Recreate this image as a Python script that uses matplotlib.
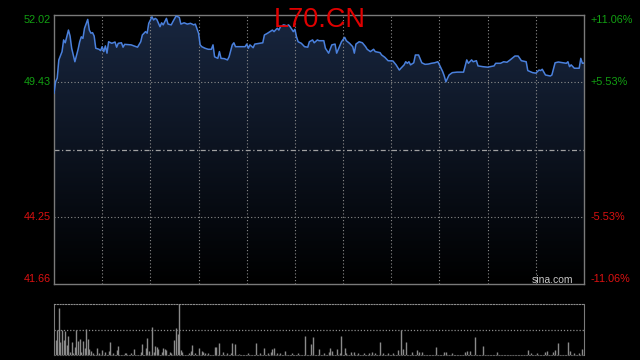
import numpy as np
import matplotlib
matplotlib.use("Agg")
import matplotlib.pyplot as plt
from matplotlib.colors import LinearSegmentedColormap

plt.rcParams['font.family'] = ['Liberation Sans', 'DejaVu Sans']

# intraday data (minutes from open, price)
minutes = [
    0, 1, 2, 3, 5, 6, 7, 9, 10, 11,
    13, 15, 16, 17, 18, 19, 21, 22, 23, 24,
    25, 26, 28, 29, 30, 31, 32, 33, 34, 36,
    38, 39, 40, 42, 43, 44, 48, 51, 52, 54,
    55, 57, 58, 59, 61, 62, 63, 64, 66, 67,
    68, 70, 71, 73, 74, 76, 78, 79, 81, 83,
    85, 87, 88, 90, 91, 92, 94, 96, 98, 99,
    100, 102, 103, 104, 106, 108, 109, 111, 112, 113,
    116, 119, 120, 121, 122, 124, 125, 128, 130, 131,
    133, 136, 137, 139, 140, 141, 143, 145, 146, 147,
    149, 150, 151, 152, 154, 156, 158, 159, 161, 162,
    164, 165, 168, 169, 171, 173, 175, 176, 179, 181,
    182, 184, 186, 187, 188, 190, 192, 194, 195, 197,
    199, 200, 203, 204, 206, 208, 211, 213, 215, 216,
    218, 219, 220, 221, 222, 224, 225, 227, 229, 231,
    233, 235, 237, 239, 240, 242, 243, 244, 246, 248,
    251, 255, 257, 258, 260, 261, 263, 264, 267, 270,
    274, 275, 278, 280, 282, 284, 287, 289, 291, 294,
    295, 298, 300, 302, 303, 304, 306, 309, 310, 312,
    314, 317, 319, 320, 321, 322, 324, 326, 327, 328,
    329, 330,
]
prices = [
    49.01, 49.45, 49.59, 50.29, 50.61, 51.06, 50.95, 51.44, 51.21, 50.74,
    50.22, 50.70, 50.99, 51.18, 51.12, 51.51, 51.85, 51.44, 51.32, 51.34,
    51.21, 50.74, 50.70, 50.65, 50.80, 50.61, 50.83, 50.55, 50.99, 50.93,
    50.98, 50.78, 50.93, 50.95, 50.78, 50.89, 50.87, 50.80, 50.78, 50.99,
    51.25, 51.38, 51.32, 51.70, 51.95, 51.83, 51.89, 51.85, 51.57, 51.72,
    51.64, 51.89, 51.67, 51.64, 51.76, 51.98, 51.93, 51.67, 51.72, 51.67,
    51.70, 51.64, 51.67, 51.32, 50.87, 50.80, 50.74, 50.70, 50.70, 50.87,
    50.41, 50.35, 50.61, 50.35, 50.34, 50.29, 50.41, 50.87, 50.95, 50.80,
    50.80, 50.80, 50.90, 50.74, 50.87, 50.76, 50.90, 50.93, 50.95, 51.25,
    51.32, 51.44, 51.38, 51.51, 51.44, 51.57, 51.64, 51.60, 51.64, 51.57,
    51.38, 51.47, 51.18, 50.99, 50.93, 50.80, 50.78, 50.99, 51.06, 50.95,
    51.06, 51.03, 51.03, 50.74, 50.55, 50.87, 50.90, 50.55, 50.99, 51.16,
    51.03, 50.93, 50.80, 50.55, 50.90, 50.99, 50.95, 50.80, 50.70, 50.61,
    50.70, 50.61, 50.57, 50.48, 50.39, 50.26, 50.25, 50.10, 49.90, 49.97,
    50.10, 50.22, 50.16, 50.22, 50.10, 50.18, 50.48, 50.48, 50.18, 50.12,
    50.13, 50.16, 50.18, 50.22, 50.10, 49.84, 49.67, 49.45, 49.71, 49.80,
    49.82, 49.82, 50.29, 50.16, 50.29, 50.22, 50.26, 50.06, 50.03, 50.01,
    50.06, 50.16, 50.16, 50.22, 50.20, 50.29, 50.44, 50.44, 50.26, 50.22,
    49.88, 49.80, 49.78, 49.90, 49.88, 49.93, 49.71, 49.67, 49.71, 50.18,
    50.21, 50.18, 50.16, 50.22, 50.03, 50.10, 49.97, 49.97, 49.97, 50.35,
    50.16, 50.17,
]

# volume bars
vol_minutes = [
    1, 2, 3, 4, 5, 6, 7, 8, 9, 10,
    11, 12, 13, 14, 15, 16, 17, 18, 19, 20,
    21, 22, 23, 24, 27, 28, 30, 32, 34, 35,
    37, 39, 40, 44, 45, 48, 50, 54, 55, 57,
    58, 59, 61, 62, 63, 64, 65, 67, 68, 69,
    70, 72, 73, 75, 76, 77, 78, 79, 80, 84,
    85, 86, 88, 90, 92, 93, 94, 96, 100, 101,
    103, 105, 108, 110, 111, 113, 115, 121, 126, 128,
    131, 133, 135, 136, 137, 139, 141, 144, 148, 152,
    156, 160, 161, 165, 168, 171, 172, 173, 176, 178,
    179, 181, 182, 185, 187, 189, 193, 196, 198, 200,
    203, 205, 208, 211, 214, 216, 217, 219, 223, 226,
    227, 229, 238, 243, 244, 248, 256, 257, 259, 262,
    267, 276, 295, 297, 301, 306, 307, 311, 312, 314,
    320, 321, 324, 327, 329,
]
volumes = [
    90, 150, 276, 74, 146, 90, 140, 60, 114, 20,
    74, 10, 50, 150, 80, 96, 20, 80, 40, 154,
    96, 34, 24, 10, 40, 14, 30, 20, 24, 78,
    10, 30, 54, 10, 14, 10, 34, 20, 66, 40,
    100, 26, 168, 20, 54, 46, 34, 20, 40, 34,
    30, 20, 10, 86, 160, 126, 300, 30, 20, 10,
    24, 60, 10, 40, 26, 20, 14, 10, 46, 46,
    70, 20, 10, 14, 70, 66, 6, 10, 70, 10,
    40, 14, 20, 36, 40, 10, 10, 24, 10, 14,
    114, 66, 106, 34, 10, 20, 40, 24, 34, 14,
    114, 40, 14, 18, 16, 14, 10, 14, 18, 10,
    78, 10, 14, 14, 30, 150, 34, 78, 18, 30,
    20, 16, 50, 18, 20, 14, 18, 24, 24, 108,
    54, 18, 30, 14, 10, 18, 24, 18, 30, 72,
    78, 24, 14, 14, 36,
]

prev_close = 46.84
price_levels = [52.02, 49.43, 44.25, 41.66]
price_labels = ["52.02", "49.43", "44.25", "41.66"]
pct_labels = ["+11.06%", "+5.53%", "-5.53%", "-11.06%"]
label_colors = ["#12a012", "#12a012", "#dd1111", "#dd1111"]
label_dy = [-5, 0, 0, 5]  # top/bottom labels pulled inward

low, high = 41.66, 52.02
session = 330

fig = plt.figure(figsize=(6.4, 3.6), dpi=100, facecolor="black")

# --- price panel
ax = fig.add_axes([54 / 640, 1 - 284 / 360, 530 / 640, 269 / 360])
ax.set_facecolor("black")

poly = ax.fill_between(minutes, prices, low, color="none", lw=0)
grad = np.linspace(1, 0, 256).reshape(-1, 1)
cmap = LinearSegmentedColormap.from_list("fade", ["#000000", "#18263f"])
im = ax.imshow(grad, extent=[0, session, low, high], aspect="auto",
               cmap=cmap, origin="upper", zorder=1)
im.set_clip_path(poly.get_paths()[0], transform=ax.transData)

for t in range(30, session, 30):
    ax.axvline(t, color="#8c8c8c", lw=0.8, ls=(0, (1, 2)), zorder=2)
for lv in [49.43, 44.25]:
    ax.axhline(lv, color="#8c8c8c", lw=0.8, ls=(0, (1, 2)), zorder=2)
ax.axhline(prev_close, color="#a0a0a0", lw=0.9, ls=(0, (4, 2, 1, 2)), zorder=2)

ax.plot(minutes, prices, color="#4a80dc", lw=1.1, zorder=3)

ax.set_xlim(0, session)
ax.set_ylim(low, high)
ax.set_xticks([])
ax.set_yticks([])
for sp in ax.spines.values():
    sp.set_color("#7a7a7a")
    sp.set_linewidth(1)

ytrans = ax.get_yaxis_transform()
for lv, pl, cl, col, dy in zip(price_levels, price_labels, pct_labels, label_colors, label_dy):
    ax.annotate(pl, xy=(0, lv), xycoords=ytrans, xytext=(-2.5, dy * 0.72),
                textcoords="offset points", ha="right", va="center",
                color=col, fontsize=7.8)
    ax.annotate(cl, xy=(1, lv), xycoords=ytrans, xytext=(4.5, dy * 0.72),
                textcoords="offset points", ha="left", va="center",
                color=col, fontsize=7.8)

fig.text(320 / 640, 1 - 26.7 / 360, "L70.CN", color="#e00000", fontsize=19.5,
         ha="center", va="baseline", zorder=10)
fig.text(573 / 640, 1 - 283 / 360, "sina.com", color="#c8c8c8", fontsize=7.5,
         ha="right", va="baseline", zorder=10)

# --- volume panel
ax2 = fig.add_axes([54 / 640, 1 - 355 / 360, 530 / 640, 50.7 / 360])
ax2.set_facecolor("black")
ax2.vlines(vol_minutes, 0, volumes, color="#8a8a8a", lw=1)
ax2.axhline(150, color="#8c8c8c", lw=0.9, ls=(0, (1, 1.5)))
ax2.set_xlim(0, session)
ax2.set_ylim(0, 300)
ax2.set_xticks([])
ax2.set_yticks([])
for side in ["left", "right"]:
    ax2.spines[side].set_color("#7a7a7a")
ax2.spines["top"].set_color("#8c8c8c")
ax2.spines["top"].set_linestyle((0, (1, 1.5)))
ax2.spines["bottom"].set_color("#5a5a5a")
ax2.spines["bottom"].set_linestyle((0, (1, 1.5)))

fig.savefig("out.png", dpi=100, facecolor="black")
